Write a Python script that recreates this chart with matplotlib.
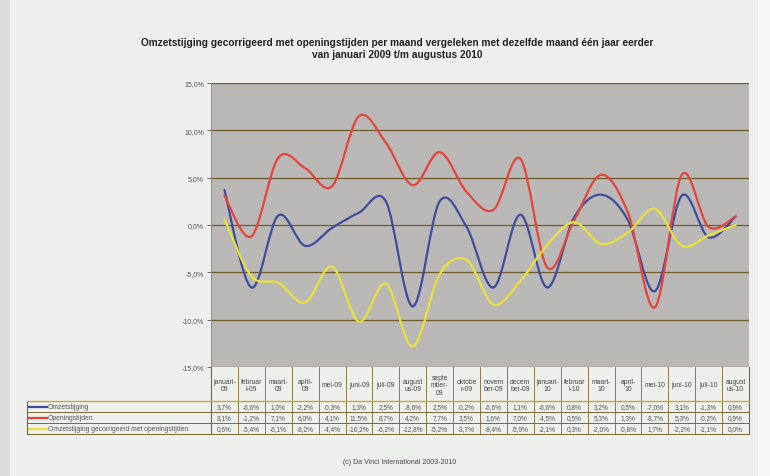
import numpy as np
import matplotlib
matplotlib.use("Agg")
from matplotlib import pyplot as plt
from matplotlib.path import Path
from matplotlib.patches import PathPatch

plt.rcParams['font.family'] = ['Liberation Sans', 'DejaVu Sans']

months = ["januari-\n09", "februar\ni-09", "maart-\n09", "april-\n09", "mei-09", "juni-09",
          "juli-09", "august\nus-09", "septe\nmber-\n09", "oktobe\nr-09", "novem\nber-09",
          "decem\nber-09", "januari-\n10", "februar\ni-10", "maart-\n10", "april-\n10",
          "mei-10", "juni-10", "juli-10", "august\nus-10"]

omzet = [3.7, -6.6, 1.0, -2.2, -0.3, 1.3, 2.5, -8.6, 2.5, -0.2,
         -6.6, 1.1, -6.6, 0.8, 3.2, 0.5, -7.0, 3.1, -1.3, 0.9]
opening = [3.1, -1.2, 7.1, 6.0, 4.1, 11.5, 8.7, 4.2, 7.7, 3.5,
           1.6, 7.0, -4.5, 0.5, 5.3, 1.3, -8.7, 5.3, -0.2, 0.9]
gecorr = [0.6, -5.4, -6.1, -8.2, -4.4, -10.2, -6.2, -12.8, -5.2, -3.7,
          -8.4, -5.9, -2.1, 0.3, -2.0, -0.8, 1.7, -2.2, -1.1, 0.0]

series_names = ["Omzetstijging", "Openingstijden", "Omzetstijging gecorrigeerd met openingstijden"]
series_colors = ["#3f4c9c", "#e5443c", "#e6e23a"]

title = ("Omzetstijging gecorrigeerd met openingstijden per maand vergeleken met dezelfde maand één jaar eerder\n"
         "van januari 2009 t/m augustus 2010")
footer = "(c) Da Vinci International 2003-2010"

W, H = 770, 477
bg = "#eef0ee"
grid_col = "#6e5c2c"


def smooth_path(x, y):
    # Excel style smoothed line: cubic bezier segments through every point
    x = np.asarray(x, float)
    y = np.asarray(y, float)
    n = len(x)
    verts = [(x[0], y[0])]
    codes = [Path.MOVETO]
    for i in range(n - 1):
        i0 = max(i - 1, 0)
        i3 = min(i + 2, n - 1)
        c1 = (x[i] + (x[i + 1] - x[i0]) / 6, y[i] + (y[i + 1] - y[i0]) / 6)
        c2 = (x[i + 1] - (x[i3] - x[i]) / 6, y[i + 1] - (y[i3] - y[i]) / 6)
        verts += [c1, c2, (x[i + 1], y[i + 1])]
        codes += [Path.CURVE4] * 3
    return Path(verts, codes)


fig = plt.figure(figsize=(W / 100, H / 100), dpi=100)
fig.patch.set_facecolor(bg)

# page edges (scan shadow)
fig.patches.append(plt.Rectangle((0, 0), 10 / W, 1, transform=fig.transFigure,
                                 facecolor="#dcdedc", edgecolor='none', zorder=0))
fig.patches.append(plt.Rectangle((758 / W, 0), 12 / W, 1, transform=fig.transFigure,
                                 facecolor="#f6f7f6", edgecolor='none', zorder=0))

left, right, top, bottom = 211, 749, 84, 368
ax = fig.add_axes([left / W, 1 - bottom / H, (right - left) / W, (bottom - top) / H])
ax.set_facecolor("#bab8b6")
n = len(months)
ax.set_xlim(-0.5, n - 0.5)
ax.set_ylim(-15, 15)
ticks = np.arange(-15, 16, 5)
ax.set_yticks(ticks)
ax.set_yticklabels([("%.1f%%" % v).replace(".", ",") for v in ticks])
ax.tick_params(axis='y', labelsize=5, colors="#555555", length=3, width=0.6, pad=2)
ax.set_xticks([])
for v in ticks:
    ax.axhline(v, color=grid_col, lw=0.9, zorder=1)
for s in ax.spines.values():
    s.set_visible(False)
ax.spines['left'].set_visible(True)
ax.spines['left'].set_color("#888888")
ax.spines['left'].set_linewidth(0.6)

xs = np.arange(n)
for vals, col in zip([omzet, opening, gecorr], series_colors):
    ax.add_patch(PathPatch(smooth_path(xs, vals), facecolor='none', edgecolor=col, lw=1.6,
                           zorder=3, capstyle='round', joinstyle='round'))

fig.text(397 / W, 1 - 49 / H, title, ha='center', va='center', fontsize=7.3, fontweight='bold',
         color="#222222", linespacing=1.2)

# data table
t_left, t_head, t_rows, t_bot = 27, 368, 402, 435
tx = fig.add_axes([0, 0, 1, 1], facecolor='none')
tx.set_xlim(0, W)
tx.set_ylim(H, 0)
tx.axis('off')
cw = (right - left) / n
rh = (t_bot - t_rows) / 3
lc = "#7a6832"

tx.plot([left, left], [t_head, t_bot], color=lc, lw=0.8)
tx.plot([t_left, t_left], [t_rows, t_bot], color=lc, lw=0.8)
tx.plot([right, right], [t_head, t_bot], color=lc, lw=0.8)
for i in range(1, n):
    x = left + i * cw
    tx.plot([x, x], [t_head, t_bot], color=lc, lw=0.6)
tx.plot([t_left, right], [t_rows, t_rows], color="#c9a436", lw=1.0)
for j in range(1, 4):
    y = t_rows + j * rh
    tx.plot([t_left, right], [y, y], color=lc, lw=0.7)

for i, m in enumerate(months):
    tx.text(left + (i + 0.5) * cw, (t_head + t_rows) / 2 + 1, m, ha='center', va='center',
            fontsize=4.9, color="#444444", linespacing=1.15)

for j, (vals, name, col) in enumerate(zip([omzet, opening, gecorr], series_names, series_colors)):
    yc = t_rows + (j + 0.5) * rh
    tx.plot([t_left + 1, t_left + 21], [yc, yc], color=col, lw=1.6, solid_capstyle='butt')
    tx.text(t_left + 21, yc, name, ha='left', va='center', fontsize=4.9, color="#555555")
    for i, v in enumerate(vals):
        tx.text(left + (i + 0.5) * cw, yc, ("%.1f%%" % v).replace(".", ","), ha='center',
                va='center', fontsize=4.7, color="#555555")

fig.text(400 / W, 1 - 463 / H, footer, ha='center', va='center', fontsize=5, color="#444444")

fig.savefig("out.png", dpi=100, facecolor=bg)
